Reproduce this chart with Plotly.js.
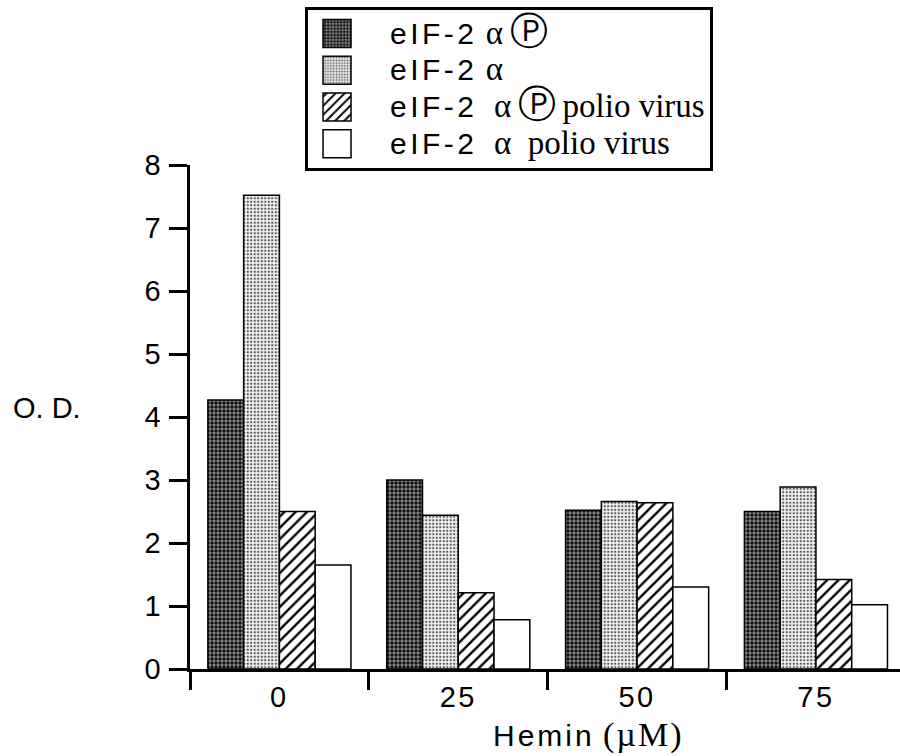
<!DOCTYPE html>
<html>
<head>
<meta charset="utf-8">
<script src="https://cdn.plot.ly/plotly-3.0.1.min.js"></script>
<style>
html,body{margin:0;padding:0;background:#fff;}
#chart{width:900px;height:756px;}
.xtick text, .ytick text {letter-spacing: 2.5px;}
.legendtext {letter-spacing: 3.5px;}
</style>
</head>
<body>
<div id="chart"></div>
<script>
// Hemin concentration (µM) categories
const categories = ['0', '25', '50', '75'];
// O.D. values
const pEif2 = [4.27, 3.00, 2.52, 2.50];        // eIF-2 α(P)
const eif2 = [7.52, 2.44, 2.66, 2.89];         // eIF-2 α
const pEif2Polio = [2.50, 1.21, 2.64, 1.42];   // eIF-2 α(P) polio virus
const eif2Polio = [1.65, 0.78, 1.30, 1.02];    // eIF-2 α polio virus
const yTicks = [0, 1, 2, 3, 4, 5, 6, 7, 8];

const SANS = "'Liberation Sans', Arial, sans-serif";
const sans = (t) => '<span style="font-size:30px">' + t + '</span>';
const ser = (t) => '<span style="font-family:Liberation Serif;font-size:33px;letter-spacing:0px">' + t + '</span>';
const circP = '<span style="font-family:DejaVu Sans;font-size:38px;letter-spacing:0px">Ⓟ</span>';

const names = [
  sans('eIF-2') + ser(' α\u2009') + circP,
  sans('eIF-2') + ser(' α'),
  sans('eIF-2') + ser('\u00a0\u00a0α\u2009') + circP + ser('\u2009polio virus'),
  sans('eIF-2') + ser('\u00a0\u00a0α\u00a0 polio virus')
];

const line = {color: '#000', width: 1.5};
const traces = [
  {type: 'bar', x: categories, y: pEif2, name: names[0],
   marker: {color: '#444', line: line,
            pattern: {shape: '.', fgcolor: '#111', bgcolor: '#8a8a8a', size: 4, solidity: 0.55, fillmode: 'replace'}}},
  {type: 'bar', x: categories, y: eif2, name: names[1],
   marker: {color: '#bbb', line: line,
            pattern: {shape: '.', fgcolor: '#555', bgcolor: '#f2f2f2', size: 3.5, solidity: 0.35, fillmode: 'replace'}}},
  {type: 'bar', x: categories, y: pEif2Polio, name: names[2],
   marker: {color: '#fff', line: line,
            pattern: {shape: '/', fgcolor: '#000', bgcolor: '#fff', size: 8, solidity: 0.3, fillmode: 'replace'}}},
  {type: 'bar', x: categories, y: eif2Polio, name: names[3],
   marker: {color: '#fff', line: line}}
];

const layout = {
  width: 900, height: 756,
  margin: {l: 190, r: 0, t: 165, b: 87},
  paper_bgcolor: '#fff', plot_bgcolor: '#fff',
  font: {family: SANS, color: '#000', size: 28},
  barmode: 'group', bargap: 0.2, bargroupgap: 0,
  showlegend: true,
  legend: {
    x: 0.162, xanchor: 'left', y: 1.3135, yanchor: 'top',
    bordercolor: '#000', borderwidth: 3, bgcolor: '#fff',
    font: {family: SANS, size: 26, color: '#000'},
    itemwidth: 72, tracegroupgap: 0, traceorder: 'normal'
  },
  xaxis: {
    type: 'category', range: [-0.5, 3.47],
    showline: true, linecolor: '#000', linewidth: 3,
    ticks: 'outside', tickson: 'boundaries', ticklen: 18, tickwidth: 3, tickcolor: '#000',
    tickfont: {family: SANS, size: 29}, showgrid: false, zeroline: false, fixedrange: true
  },
  yaxis: {
    range: [0, 8], tickvals: yTicks, ticktext: yTicks.map(String),
    showline: true, linecolor: '#000', linewidth: 3,
    ticks: 'outside', ticklen: 18, tickwidth: 3, tickcolor: '#000',
    tickfont: {family: SANS, size: 29}, showgrid: false, zeroline: false, fixedrange: true
  },
  annotations: [
    {text: 'O. D.', xref: 'paper', yref: 'paper', x: -0.201, y: 0.518,
     xanchor: 'center', yanchor: 'middle', showarrow: false, font: {family: SANS, size: 29}},
    {text: '<span style="letter-spacing:3px">Hemin</span> <span style="font-family:Liberation Serif;font-size:34px;letter-spacing:2px">(µM)</span>',
     xref: 'paper', yref: 'paper',
     x: 0.5606, y: -0.131, xanchor: 'center', yanchor: 'middle', showarrow: false,
     font: {family: SANS, size: 30}}
  ]
};

Plotly.newPlot('chart', traces, layout, {staticPlot: true, displayModeBar: false}).then(function () {
  document.querySelectorAll('.legend .legendpoints path').forEach(function (p) {
    p.setAttribute('d', 'M2,14H-26V-14H2Z');
  });
});
</script>
</body>
</html>
